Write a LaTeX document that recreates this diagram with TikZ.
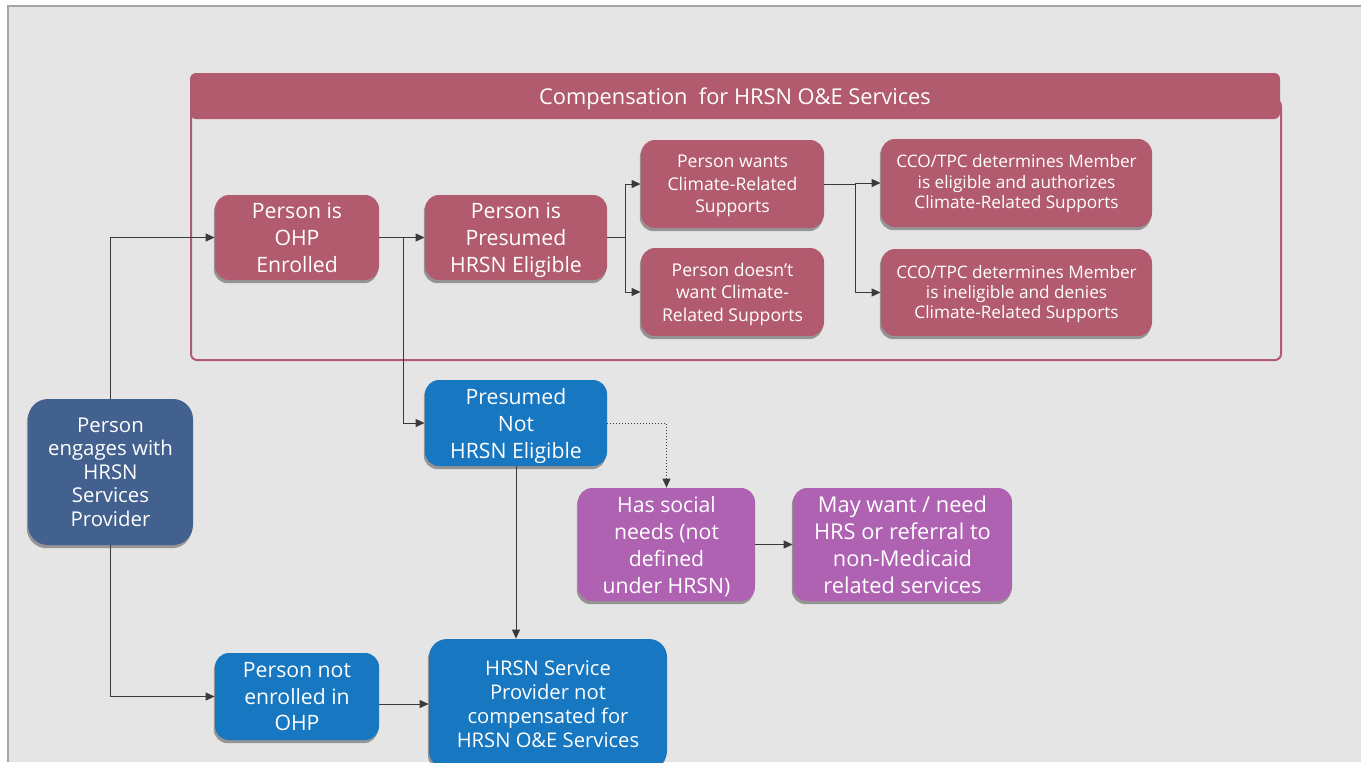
\documentclass[tikz,border=0pt]{standalone}
\usepackage{fontspec}
\setmainfont{Open Sans}
\usepackage{tikz}
\usetikzlibrary{arrows.meta,positioning,calc,shadows}
\pgfdeclarelayer{bg}
\pgfsetlayers{bg,main}

\definecolor{ohpred}{HTML}{B25B6E}
\definecolor{hrsnblue}{HTML}{1777C0}
\definecolor{provblue}{HTML}{43618F}
\definecolor{needpurple}{HTML}{AF62B2}
\definecolor{canvas}{HTML}{E5E5E5}
\definecolor{rim}{HTML}{A5A5A5}
\definecolor{wire}{HTML}{3A3A3A}

\tikzset{
  box/.style={rounded corners=7pt, text=white, align=center, inner sep=0pt,
    drop shadow={shadow xshift=-0.6pt, shadow yshift=-1.6pt, opacity=.35, fill=black},
    font=\fontsize{10.6}{13.5}\selectfont},
  redbox/.style={box, fill=ohpred},
  bluebox/.style={box, fill=hrsnblue},
  purplebox/.style={box, fill=needpurple},
  conn/.style={draw=wire, line width=0.5pt, -{Triangle[length=4.5pt,width=4pt]}},
}

\begin{document}
\begin{tikzpicture}[x=0.5pt, y=-0.5pt]
    \useasboundingbox (0,0) rectangle (1368,762);
    \begin{pgfonlayer}{bg}    % page and frame
        \fill[white] (0,0) rectangle (1368,762);
        \fill[canvas] (8,6) rectangle (1361,762);
        \draw[rim, line width=1pt] (8,762) -- (8,6) -- (1361,6);
        \draw[ohpred, line width=1pt, rounded corners=3pt] (191,100) rectangle (1281,360);
    \end{pgfonlayer}

    \node [fill=ohpred, rounded corners=3pt, minimum width=545pt, minimum height=23pt,
      text=white, text depth=-0.4pt, font=\fontsize{10.9}{13}\selectfont] (comp) at (735,96) {Compensation~ for HRSN O\&E Services};

    \node [box, fill=provblue, rounded corners=10pt, minimum width=82.5pt, minimum height=73pt, text depth=-2pt,
      font=\fontsize{10.2}{11.8}\selectfont] (engages) at (110.5,472) {Person\\engages with\\HRSN\\Services\\Provider};

    \node [redbox, minimum width=82pt, minimum height=42.5pt, text depth=-2pt] (enrolled) at (297,237.5) {Person is\\OHP\\Enrolled};
    \node [redbox, minimum width=91pt, minimum height=42.5pt, text depth=-1.5pt] (presumed) at (516,237.5) {Person is\\Presumed\\HRSN Eligible};
    \node [redbox, minimum width=91.5pt, minimum height=44pt, text depth=-0.9pt, font=\fontsize{8.8}{11.2}\selectfont] (wants) at (732.5,184) {Person wants\\Climate-Related\\Supports};
    \node [redbox, minimum width=91.5pt, minimum height=44pt, text depth=0pt, font=\fontsize{8.8}{11.2}\selectfont] (doesnt) at (732.5,292) {Person doesn’t\\want Climate-\\Related Supports};
    \node [redbox, minimum width=135.5pt, minimum height=44pt, text depth=1.5pt, font=\fontsize{8.6}{10.2}\selectfont] (eligible) at (1016.5,183) {CCO/TPC determines Member\\is eligible and authorizes\\Climate-Related Supports};
    \node [redbox, minimum width=135.5pt, minimum height=43.5pt, text depth=0.6pt, font=\fontsize{8.6}{10.2}\selectfont] (ineligible) at (1016.5,292.5) {CCO/TPC determines Member\\is ineligible and denies\\Climate-Related Supports};

    \node [bluebox, minimum width=91pt, minimum height=43pt, text depth=-2.5pt] (notelig) at (516,423) {Presumed\\Not\\HRSN Eligible};
    \node [bluebox, minimum width=82pt, minimum height=43.5pt, text depth=-2.5pt, font=\fontsize{10.6}{13.2}\selectfont] (notenrolled) at (297,696.5) {Person not\\enrolled in\\OHP};
    \node [bluebox, rounded corners=9pt, minimum width=119pt, minimum height=65pt,
      font=\fontsize{10.1}{12}\selectfont] (notcomp) at (548,704) {HRSN Service\\Provider not\\compensated for\\HRSN O\&E Services};

    \node [purplebox, minimum width=88.5pt, minimum height=56.5pt, text depth=-2.4pt] (social) at (666.5,544.5) {Has social\\needs (not\\defined\\under HRSN)};
    \node [purplebox, minimum width=109.5pt, minimum height=56.5pt, text depth=-3pt,
      font=\fontsize{10.9}{13.5}\selectfont] (maywant) at (902.5,544.5) {May want / need\\HRS or referral to\\non-Medicaid\\related services};

    \draw[conn] (engages.north) |- (enrolled.west);
    \draw[conn] (engages.south) |- (notenrolled.west);
    \draw[conn] (enrolled.east) -- (presumed.west);
    \draw[conn] (enrolled.east) -- ++(24,0) |- (notelig.west);
    \draw[conn] (presumed.east) -- ++(18,0) |- (wants.west);
    \draw[conn] (presumed.east) -- ++(18,0) |- (doesnt.west);
    \draw[conn] (wants.east) -- ++(31,0) |- (eligible.west);
    \draw[conn] (wants.east) -- ++(31,0) |- (ineligible.west);
    \draw[conn, densely dotted] (notelig.east) -| (social.north);
    \draw[conn] (notelig.south) -- (notelig.south |- notcomp.north);
    \draw[conn] (social.east) -- (maywant.west);
    \draw[conn] (notcomp.west -| notenrolled.east) -- (notcomp.west);
  \end{tikzpicture}
\end{document}
